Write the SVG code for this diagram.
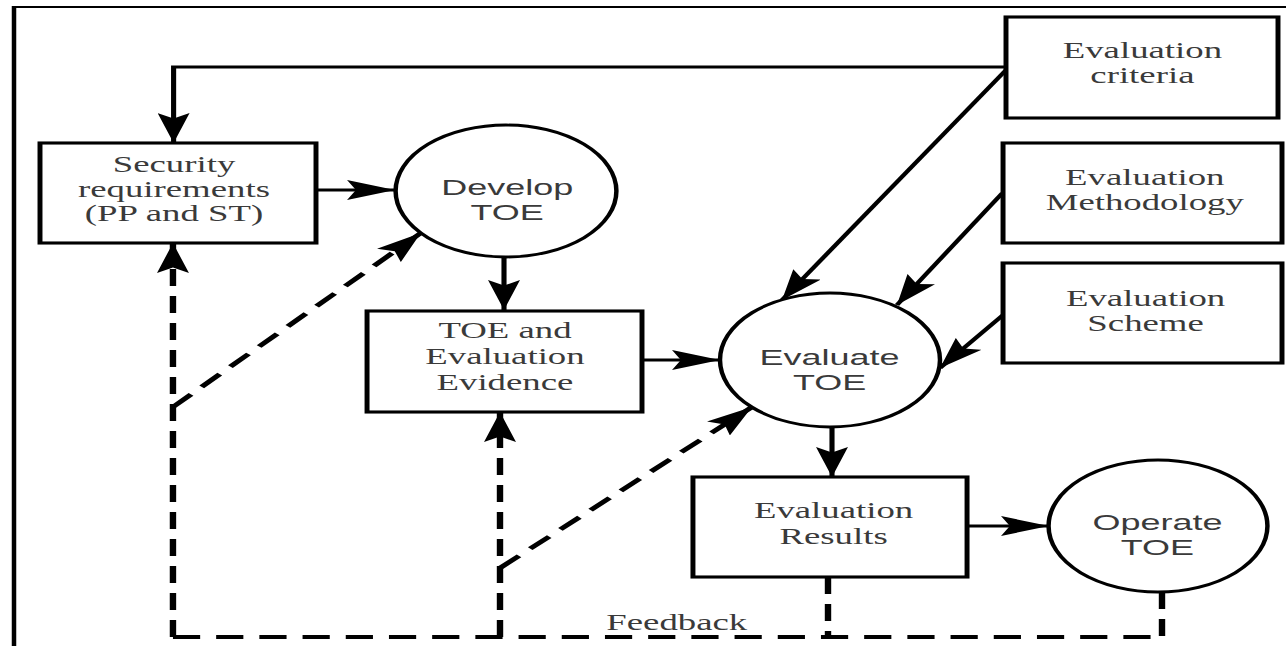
<svg xmlns="http://www.w3.org/2000/svg" width="1286" height="646" viewBox="0 0 1286 646">
  <style>
    .box { fill: #fff; stroke: #000; stroke-width: 3.1; }
    .bubble { fill: #fff; stroke: #000; stroke-width: 2.8; }
    .line { fill: none; stroke: #000; stroke-width: 3.2; }
    .dash { fill: none; stroke: #000; stroke-width: 4; stroke-dasharray: 17 10; }
    .serif { font-family: "Liberation Serif", "Times New Roman", serif; font-size: 23px; fill: #3a3a3a; text-anchor: middle; }
    .sans { font-family: "Liberation Sans", Arial, sans-serif; font-size: 22.5px; fill: #3a3a3a; text-anchor: middle; }
  </style>
  <defs>
    <marker id="ah" markerUnits="userSpaceOnUse" markerWidth="30" markerHeight="20" viewBox="0 0 27 18" refX="27" refY="9" orient="auto">
      <path d="M0,0 L27,9 L0,18 L5,9 Z" fill="#000"/>
    </marker>
  </defs>

  <rect width="1286" height="646" fill="#fff"/>

  <!-- outer frame: top rule and left rule -->
  <g id="frame">
    <line x1="12" y1="7" x2="1286" y2="7" stroke="#000" stroke-width="2"/>
    <line x1="14" y1="6" x2="14" y2="646" stroke="#000" stroke-width="4.5"/>
  </g>

  <!-- drawing is laid out in a narrow grid and widened horizontally -->
  <g transform="scale(1.6,1)">
    <g id="connectors">
      <!-- criteria feeds the security requirements -->
      <path class="line" d="M628.75,67 H108.5 V143" marker-end="url(#ah)"/>
      <path class="line" d="M197.5,190 H246.9" marker-end="url(#ah)"/>
      <path class="line" d="M315,257 V310" marker-end="url(#ah)"/>
      <path class="line" d="M401.25,360 H450" marker-end="url(#ah)"/>
      <path class="line" d="M520,427 V477" marker-end="url(#ah)"/>
      <path class="line" d="M604.4,526 H655.6" marker-end="url(#ah)"/>
      <!-- inputs to the evaluation -->
      <path class="line" d="M628.75,70 L488.75,300" marker-end="url(#ah)"/>
      <path class="line" d="M626.5,193 L560.6,305" marker-end="url(#ah)"/>
      <path class="line" d="M626.9,315 L587.5,368" marker-end="url(#ah)"/>
      <!-- feedback loop -->
      <path class="dash" d="M108.1,637 H726.25"/>
      <path class="dash" d="M108.1,637 V243" marker-end="url(#ah)"/>
      <path class="dash" d="M312.5,637 V412" marker-end="url(#ah)"/>
      <path class="dash" d="M517.5,577 V637"/>
      <path class="dash" d="M726.25,592 V637"/>
      <path class="dash" d="M108.1,407 L263,233" marker-end="url(#ah)"/>
      <path class="dash" d="M312.5,568 L470,407" marker-end="url(#ah)"/>
      <text class="serif" x="423" y="630">Feedback</text>
    </g>

    <g id="security-requirements">
      <rect class="box" x="25" y="143" width="172.5" height="100"/>
      <text class="serif" x="108.75" y="172">Security</text>
      <text class="serif" x="108.75" y="197">requirements</text>
      <text class="serif" x="108.75" y="221">(PP and ST)</text>
    </g>

    <g id="develop-toe">
      <ellipse class="bubble" cx="316.25" cy="191" rx="69" ry="66"/>
      <text class="sans" x="317" y="195">Develop</text>
      <text class="sans" x="317" y="220">TOE</text>
    </g>

    <g id="toe-evidence">
      <rect class="box" x="229.4" y="311" width="171.85" height="101"/>
      <text class="serif" x="315.6" y="338">TOE and</text>
      <text class="serif" x="315.6" y="364">Evaluation</text>
      <text class="serif" x="315.6" y="390">Evidence</text>
    </g>

    <g id="evaluate-toe">
      <ellipse class="bubble" cx="518.75" cy="360" rx="68.75" ry="67"/>
      <text class="sans" x="518.5" y="365">Evaluate</text>
      <text class="sans" x="518.5" y="390">TOE</text>
    </g>

    <g id="evaluation-results">
      <rect class="box" x="433.1" y="477" width="171.3" height="100"/>
      <text class="serif" x="521" y="518">Evaluation</text>
      <text class="serif" x="521" y="544">Results</text>
    </g>

    <g id="operate-toe">
      <ellipse class="bubble" cx="723.75" cy="526" rx="68.4" ry="66"/>
      <text class="sans" x="723.4" y="530">Operate</text>
      <text class="sans" x="723.4" y="555">TOE</text>
    </g>

    <g id="evaluation-criteria">
      <rect class="box" x="628.75" y="17" width="170" height="101"/>
      <text class="serif" x="714" y="58">Evaluation</text>
      <text class="serif" x="714" y="83">criteria</text>
    </g>

    <g id="evaluation-methodology">
      <rect class="box" x="626.9" y="143" width="174.35" height="100"/>
      <text class="serif" x="715.5" y="185">Evaluation</text>
      <text class="serif" x="715.5" y="210">Methodology</text>
    </g>

    <g id="evaluation-scheme">
      <rect class="box" x="626.9" y="263" width="174.35" height="100"/>
      <text class="serif" x="716" y="306">Evaluation</text>
      <text class="serif" x="716" y="331">Scheme</text>
    </g>
  </g>
</svg>
